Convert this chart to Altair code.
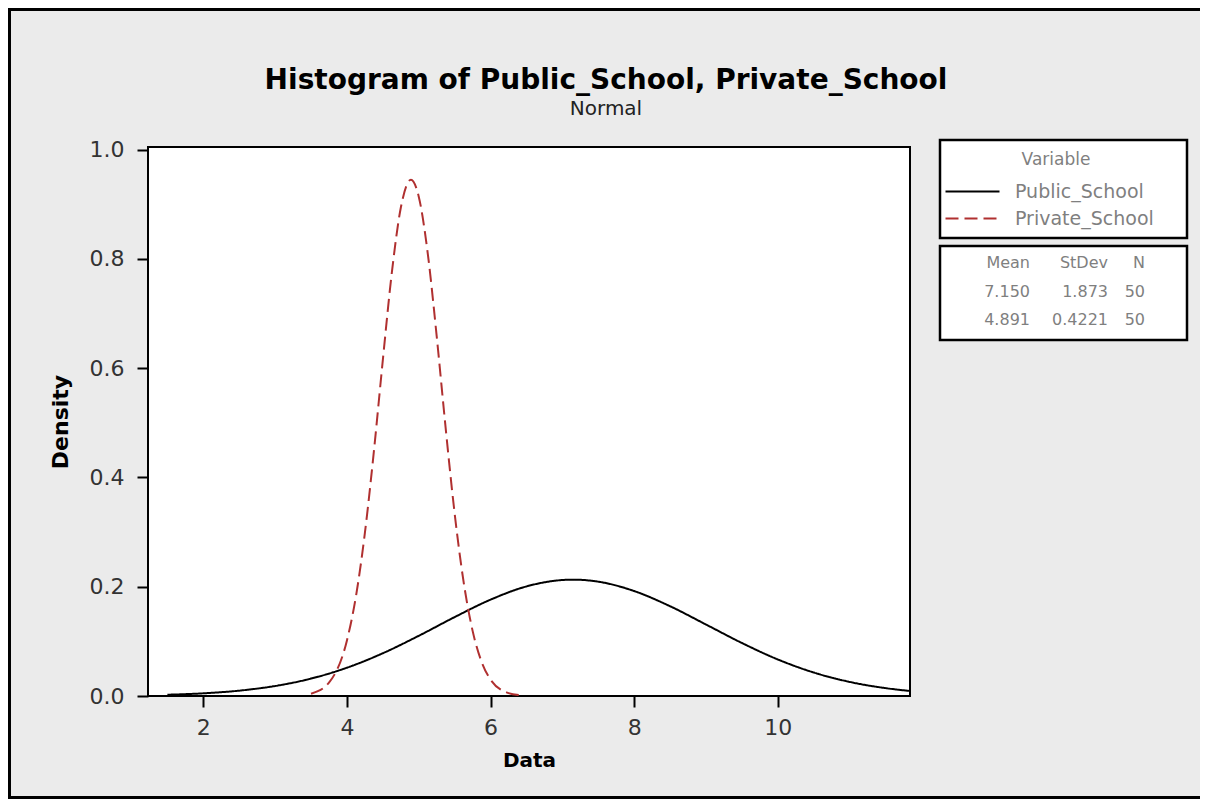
import altair as alt
import pandas as pd

# ---- data ----
public_x = [1.5, 2.0, 2.5, 3.0, 3.5, 4.0, 4.5, 5.0, 5.5, 6.0, 6.5, 7.0, 7.15, 7.5,
            8.0, 8.5, 9.0, 9.5, 10.0, 10.5, 11.0, 11.5, 11.84]
public_y = [0.0023, 0.0049, 0.0098, 0.0183, 0.0319, 0.0518, 0.0783, 0.1102, 0.1445,
            0.1764, 0.2006, 0.2123, 0.2130, 0.2093, 0.1921, 0.1643, 0.1308, 0.0970,
            0.0669, 0.0430, 0.0258, 0.0144, 0.0092]

private_x = [3.5, 3.75, 4.0, 4.125, 4.25, 4.375, 4.5, 4.625, 4.75, 4.891, 5.0, 5.125,
             5.25, 5.375, 5.5, 5.625, 5.75, 5.875, 6.0, 6.25, 6.4]
private_y = [0.0041, 0.0245, 0.1018, 0.1821, 0.2984, 0.4477, 0.6154, 0.7749, 0.8938,
             0.9451, 0.9141, 0.8104, 0.6583, 0.4898, 0.3338, 0.2084, 0.1192, 0.0625,
             0.0300, 0.0053, 0.0016]

variables = ["Public_School", "Private_School"]
stat_header = ["Mean", "StDev", "N"]
means = ["7.150", "4.891"]
stdevs = ["1.873", "0.4221"]
ns = ["50", "50"]

x_ticks = [2, 4, 6, 8, 10]
y_ticks = [0.0, 0.2, 0.4, 0.6, 0.8, 1.0]

curves = pd.concat([
    pd.DataFrame({"Data": public_x, "Density": public_y, "Variable": variables[0]}),
    pd.DataFrame({"Data": private_x, "Density": private_y, "Variable": variables[1]}),
])

FONT = "DejaVu Sans"
GRAY = "#7f7f7f"

lines = alt.Chart(curves).mark_line(strokeWidth=2, interpolate="monotone", clip=True).encode(
    x=alt.X("Data:Q", scale=alt.Scale(domain=[1.23, 11.84], nice=False, zero=False),
            axis=alt.Axis(values=x_ticks, format="d", title="Data", grid=False, domain=False,
                          tickSize=11, tickWidth=2, tickColor="black", labelPadding=10,
                          labelFontSize=22, labelColor="#333333", labelFont=FONT,
                          titleFontSize=20, titleFont=FONT, titleFontWeight="bold",
                          titleColor="black", titlePadding=12)),
    y=alt.Y("Density:Q", scale=alt.Scale(domain=[0, 1.005], nice=False),
            axis=alt.Axis(values=y_ticks, format=".1f", title="Density", grid=False, domain=False,
                          tickSize=11, tickWidth=2, tickColor="black", labelPadding=13,
                          labelFontSize=22, labelColor="#333333", labelFont=FONT,
                          titleFontSize=22, titleFont=FONT, titleFontWeight="bold",
                          titleColor="black", titlePadding=17)),
    color=alt.Color("Variable:N", sort=variables,
                    scale=alt.Scale(domain=variables, range=["black", "#b03030"]),
                    legend=alt.Legend(title="Variable", orient="none", legendX=810, legendY=5,
                                      symbolType="M-2,0H2", symbolSize=729, symbolStrokeWidth=2,
                                      labelFontSize=19, labelColor=GRAY, labelFont=FONT,
                                      titleFontSize=17, titleColor=GRAY, titleFont=FONT,
                                      titleFontWeight="normal", titleAnchor="middle",
                                      titlePadding=8, rowPadding=2, labelOffset=28,
                                      padding=0)),
    strokeDash=alt.StrokeDash("Variable:N", sort=variables,
                              scale=alt.Scale(domain=variables, range=[[1, 0], [13, 6]]),
                              legend=alt.Legend(title="Variable")),
)

# decorative frames (outer border, legend box, statistics box)
outer = alt.Chart(pd.DataFrame({"k": [0]})).mark_rect(
    fill=None, stroke="black", strokeWidth=3, clip=False
).encode(x=alt.value(-138.5), x2=alt.value(1080), y=alt.value(-137.5), y2=alt.value(650.5))

legend_box = alt.Chart(pd.DataFrame({"k": [0]})).mark_rect(
    fill="white", stroke="black", strokeWidth=2.5, clip=False
).encode(x=alt.value(792), x2=alt.value(1039), y=alt.value(-7), y2=alt.value(91))

stats_box = alt.Chart(pd.DataFrame({"k": [0]})).mark_rect(
    fill="white", stroke="black", strokeWidth=2.5, clip=False
).encode(x=alt.value(792), x2=alt.value(1039), y=alt.value(99), y2=alt.value(193))

rows = ["h", "r1", "r2"]
table_cols = [
    (stat_header[0], means, 882),
    (stat_header[1], stdevs, 960),
    (stat_header[2], ns, 997),
]
text_layers = []
for head, vals, xpos in table_cols:
    df = pd.DataFrame({"row": rows, "txt": [head] + vals})
    text_layers.append(
        alt.Chart(df).mark_text(align="right", baseline="middle", fontSize=16,
                                font=FONT, color=GRAY, clip=False).encode(
            x=alt.value(xpos),
            y=alt.Y("row:N", scale=alt.Scale(domain=rows, range=[116, 173], padding=0),
                    axis=None),
            text="txt:N",
        )
    )

chart = alt.layer(outer, legend_box, stats_box, lines, *text_layers).resolve_scale(
    y="independent"
).properties(
    width=762,
    height=549,
    padding={"left": 140, "top": 139, "right": 290, "bottom": 103},
    autosize=alt.AutoSizeParams(type="none"),
    background="#ebebeb",
    title=alt.TitleParams(
        text="Histogram of Public_School, Private_School",
        subtitle="Normal",
        anchor="middle", frame="group", dx=77, offset=-111,
        fontSize=28, font=FONT, fontWeight="bold", color="black",
        subtitleFontSize=20, subtitleFont=FONT, subtitleColor="#222222",
        subtitlePadding=4,
    ),
).configure_view(
    fill="white", stroke="black", strokeWidth=2
)

chart.save("out.html", embed_options={"renderer": "svg", "actions": False})
